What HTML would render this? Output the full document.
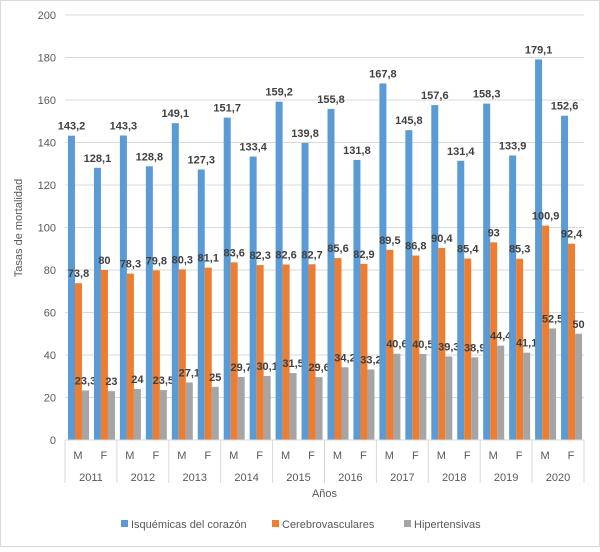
<!DOCTYPE html>
<html><head><meta charset="utf-8"><style>
body{margin:0;background:#fff;font-family:"Liberation Sans",Arial,sans-serif}
svg text{font-family:"Liberation Sans",Arial,sans-serif}
</style></head><body>
<svg id="c" width="600" height="547">
<rect x="0.5" y="0.5" width="599" height="546" fill="#fff" stroke="#d9d9d9"/>
<g id="g"></g>
</svg>
<script>
const years=["2011","2012","2013","2014","2015","2016","2017","2018","2019","2020"];
const sexes=["M","F"];
const isq=[143.2,128.1,143.3,128.8,149.1,127.3,151.7,133.4,159.2,139.8,155.8,131.8,167.8,145.8,157.6,131.4,158.3,133.9,179.1,152.6];
const cer=[73.8,80,78.3,79.8,80.3,81.1,83.6,82.3,82.6,82.7,85.6,82.9,89.5,86.8,90.4,85.4,93,85.3,100.9,92.4];
const hip=[23.3,23,24,23.5,27.1,25,29.7,30.1,31.5,29.6,34.2,33.2,40.6,40.5,39.3,38.9,44.4,41.1,52.5,50];
const yTicks=[0,20,40,60,80,100,120,140,160,180,200];
const NS="http://www.w3.org/2000/svg";
const g=document.getElementById('g');
const L=65,R=584,T=15,B=440;
const y=v=>B-(v/200)*(B-T);
const n=years.length*sexes.length;
const cw=(R-L)/n;
const x=i=>L+i*cw;
function el(t,a,txt){const e=document.createElementNS(NS,t);for(const k in a)e.setAttribute(k,a[k]);if(txt!==undefined)e.textContent=txt;g.appendChild(e);return e;}
yTicks.forEach(t=>{
 const l=el('line',{x1:L,x2:R,y1:y(t),y2:y(t),stroke:'#d9d9d9'});
 
 
 const tx=el('text',{x:L-9,y:y(t)+4,'text-anchor':'end','font-size':11,fill:'#595959'},String(t));
 
 
});
const series=[[isq,'#5b9bd5'],[cer,'#ed7d31'],[hip,'#a5a5a5']];
const bw=7;
for(let i=0;i<n;i++){
 series.forEach(([d,c],s)=>{
  const bx=x(i)+3+s*bw;
  const r=el('rect',{x:bx,y:y(d[i]),width:bw,height:B-y(d[i]),fill:c});
  
  
  const lab=el('text',{x:bx+bw/2,y:y(d[i])-6,'text-anchor':'middle','font-size':11,'font-weight':'bold',fill:'#404040'},String(d[i]).replace('.',','));
  
  
 });
 const sl=el('text',{x:x(i)+cw/2,y:459,'text-anchor':'middle','font-size':11,fill:'#595959'},sexes[i%2]);
 
 
}
el('line',{x1:L,x2:R,y1:B,y2:B,stroke:'#d9d9d9'});
for(let k=0;k<=years.length;k++){
 const xx=x(k*2);
 const vl=el('line',{x1:xx,x2:xx,y1:B,y2:483,stroke:'#d9d9d9'});
 
 
 if(k<years.length){
  const yl=el('text',{x:xx+cw,y:481,'text-anchor':'middle','font-size':11,fill:'#595959'},years[k]);
  
  
 }
}
const xt=el('text',{x:(L+R)/2,y:497,'text-anchor':'middle','font-size':11,fill:'#595959'},'Años');


const yt=el('text',{x:0,y:0,'text-anchor':'middle','font-size':11,fill:'#595959',transform:'translate(22,228) rotate(-90)'},'Tasas de mortalidad');


const leg=[['Isquémicas del corazón','#5b9bd5',121],['Cerebrovasculares','#ed7d31',272],['Hipertensivas','#a5a5a5',404]];
leg.forEach(([t,c,lx])=>{
 const r=el('rect',{x:lx,y:520,width:7,height:7,fill:c});
 
 
 const tx=el('text',{x:lx+10,y:528,'font-size':11,fill:'#595959'},t);
 
 
});
</script>
</body></html>
